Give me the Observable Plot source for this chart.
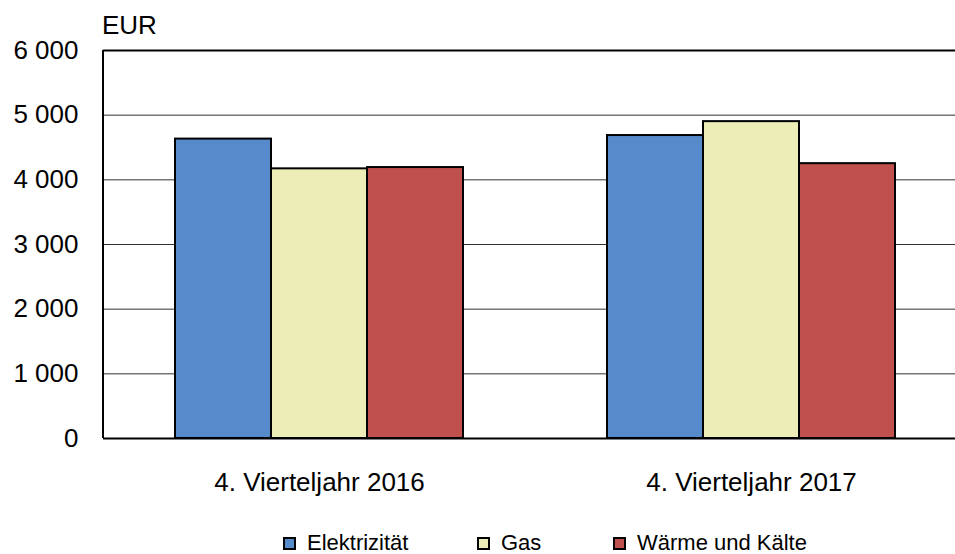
<!DOCTYPE html>
<html>
<head>
<meta charset="utf-8">
<script src="https://cdn.jsdelivr.net/npm/d3@7"></script>
<script src="https://cdn.jsdelivr.net/npm/@observablehq/plot@0.6"></script>
<style>
  html, body { margin: 0; padding: 0; background: #fff; overflow: hidden; width: 955px; height: 554px; }
  body { font-family: "Liberation Sans", Arial, sans-serif; color: #000; }
  #unit { height: 36px; box-sizing: border-box; padding-top: 12px; padding-left: 102px; font-size: 26px; line-height: 26px; }
  #chart { width: 955px; height: 488px; overflow: hidden; position: relative; }
  #chart svg { display: block; max-width: none !important; width: 967px !important; height: 488px !important; }
  #legend { position: relative; width: 955px; height: 30px; font-size: 22px; }
  .item { position: absolute; top: 8px; height: 22px; line-height: 22px; display: flex; align-items: center; white-space: nowrap; }
  .item span { line-height: 22px; }
  .sw { width: 13px; height: 13px; box-sizing: border-box; border: 2px solid #000; margin-right: 11px; }
</style>
</head>
<body>
<div id="unit">EUR</div>
<div id="chart"></div>
<div id="legend"></div>
<script>
const periods = ["4. Vierteljahr 2016", "4. Vierteljahr 2017"];
const series = ["Elektrizität", "Gas", "Wärme und Kälte"];
const colors = ["#578ACB", "#EDEDB7", "#C0504D"];
const values2016 = [4630, 4170, 4190];
const values2017 = [4685, 4900, 4250];
const yTicks = [0, 1000, 2000, 3000, 4000, 5000, 6000];
const gridTicks = [1000, 2000, 3000, 4000, 5000];
const legendLeft = [283, 477, 613];

const data = [];
series.forEach((s, i) => {
  data.push({period: periods[0], series: s, value: values2016[i]});
  data.push({period: periods[1], series: s, value: values2017[i]});
});

const fmt = d3.formatLocale({decimal: ",", thousands: " ", grouping: [3], currency: ["", ""]}).format(",d");

const chart = Plot.plot({
  width: 967,
  height: 488,
  marginLeft: 103,
  marginRight: 0,
  marginTop: 14,
  marginBottom: 86,
  style: {fontSize: "26px", fontFamily: "Liberation Sans, Arial, sans-serif", color: "#000", background: "#fff", maxWidth: "none"},
  fx: {domain: periods, padding: 0, axis: "bottom", tickSize: 0, tickPadding: 34, label: null},
  x: {domain: series, paddingInner: 0, paddingOuter: 0.75, axis: null},
  y: {domain: [0, 6000], ticks: yTicks, tickFormat: fmt, tickSize: 0, tickPadding: 25, label: null},
  color: {domain: series, range: colors},
  marks: [
    Plot.ruleY(gridTicks, {stroke: "#333", strokeWidth: 1}),
    Plot.ruleY([6000], {stroke: "#000", strokeWidth: 2}),
    Plot.barY(data, {fx: "period", x: "series", y: "value", fill: "series", stroke: "#000", strokeWidth: 2}),
    Plot.ruleY([0], {stroke: "#000", strokeWidth: 2})
  ]
});
document.getElementById("chart").appendChild(chart);

// left axis line, placed with the plot's own y scale
const ys = chart.scale("y");
d3.select(chart).append("line")
  .attr("x1", 103).attr("x2", 103)
  .attr("y1", ys.apply(6000)).attr("y2", ys.apply(0))
  .attr("stroke", "#000").attr("stroke-width", 2);

const legend = document.getElementById("legend");
series.forEach((s, i) => {
  const it = document.createElement("div");
  it.className = "item";
  it.style.left = legendLeft[i] + "px";
  const sw = document.createElement("div");
  sw.className = "sw";
  sw.style.background = colors[i];
  const t = document.createElement("span");
  t.textContent = s;
  it.appendChild(sw);
  it.appendChild(t);
  legend.appendChild(it);
});
</script>
</body>
</html>
